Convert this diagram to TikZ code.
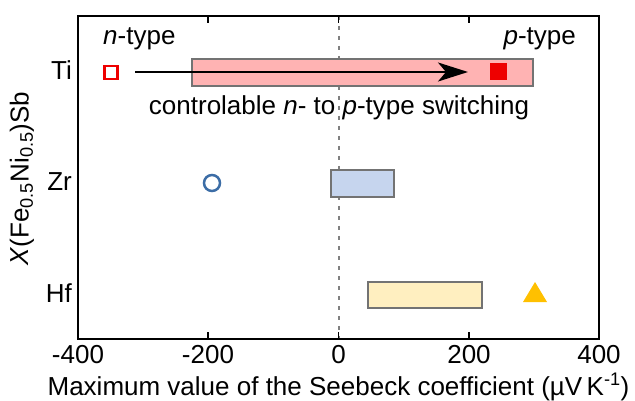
\documentclass[tikz,border=0pt]{standalone}
\usepackage{fontspec}
\setmainfont{Liberation Sans}
\usetikzlibrary{arrows.meta}
\definecolor{tipink}{HTML}{FFB3B3}
\definecolor{tired}{HTML}{EE0000}
\definecolor{zrblue}{HTML}{C6D5EE}
\definecolor{zrline}{HTML}{3C6DA6}
\definecolor{hfyellow}{HTML}{FFEFC0}
\definecolor{hfgold}{HTML}{FFC000}
\tikzstyle{txt} = [font=\fontsize{26}{30}\selectfont, inner sep=0pt]
\tikzstyle{bar} = [draw=gray!90!black, line width=1.2pt]
\tikzstyle{tickmark} = [line width=1.5pt]
\tikzstyle{arrow} = [line width=2pt, -{Stealth[length=30pt, width=19pt, inset=8pt]}]

\begin{document}
\begin{tikzpicture}[x=1pt, y=-1pt]
\useasboundingbox (0,0) rectangle (635,401);
% zero line
\draw [gray, line width=2pt, dash pattern=on 4pt off 6pt] (338.5,16) -- (338.5,339);
% bars
\filldraw [bar, fill=tipink] (192,59) rectangle (533,86);
\filldraw [bar, fill=zrblue] (331,170) rectangle (394,197);
\filldraw [bar, fill=hfyellow] (368,282) rectangle (482,308);
% frame and ticks
\draw [line width=2pt] (78,16) rectangle (599,339);
\foreach \x in {208,338.5,469} {
  \draw [tickmark] (\x,16) -- (\x,23);
  \draw [tickmark] (\x,339) -- (\x,332);
}
% markers
\node (tin) [draw=tired, line width=2.5pt, minimum size=13pt, inner sep=0pt] at (111,72.5) {};
\node (tip) [fill=tired, minimum size=17pt, inner sep=0pt] at (498,72) {};
\node (zrn) [circle, draw=zrline, line width=2.5pt, minimum size=16pt, inner sep=0pt] at (212,183) {};
\fill [hfgold] (523,302) -- (535,282) -- (547,302) -- cycle;
% switching arrow
\coordinate (arrstart) at (135,72);
\coordinate (arrend) at (468,72);
\draw [arrow] (arrstart) -- (arrend);
% texts
\node (ntype) [txt, anchor=base west] at (103,45) {\textit{n}-type};
\node (ptype) [txt, anchor=base east] at (576,45) {\textit{p}-type};
\node (switch) [txt, anchor=base] at (339,115) {controlable \textit{n}- to \textit{p}-type switching};
\node (ti) [txt, anchor=base east] at (72,80) {Ti};
\node (zr) [txt, anchor=base east] at (72,191) {Zr};
\node (hf) [txt, anchor=base east] at (72,302) {Hf};
\node (ylab) [txt, rotate=90] at (22,178.5) {\textit{X}(Fe\textsubscript{0.5}Ni\textsubscript{0.5})Sb};
\foreach \x/\v in {78/-400,208/-200,338.5/0,469/200,599/400}
  \node (x\v) [txt, anchor=base] at (\x,363) {\v};
\node (xlab) [txt, anchor=base] at (338.5,395) {Maximum value of the Seebeck coefficient (\textmu V\,K\textsuperscript{-1})};
\end{tikzpicture}
\end{document}
